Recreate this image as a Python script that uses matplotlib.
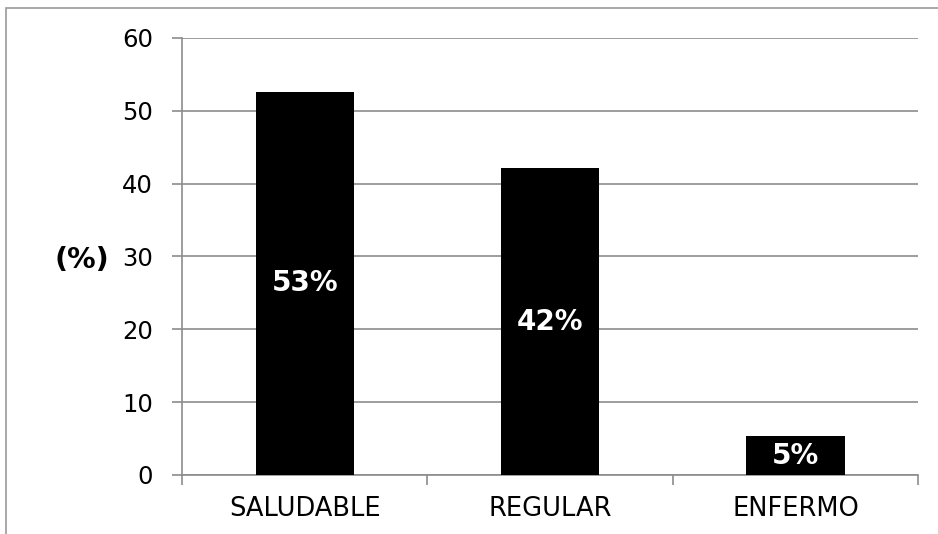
import matplotlib
matplotlib.use("Agg")
import matplotlib.pyplot as plt
import numpy as np
from matplotlib.patches import Rectangle

categories = ["SALUDABLE", "REGULAR", "ENFERMO"]
values = [52.6, 42.1, 5.3]
labels = ["53%", "42%", "5%"]
y_ticks = [0, 10, 20, 30, 40, 50, 60]

plt.rcParams.update({
    "font.family": "DejaVu Sans",
})

fig = plt.figure(figsize=(9.38, 5.34), dpi=100)
ax = fig.add_axes([0.194, 0.1105, 0.785, 0.8185])

# outer chart frame (clipped at right and bottom)
fig.patches.append(Rectangle((6 / 938, -0.05), 1.1, (534 - 8) / 534 + 0.05,
                             transform=fig.transFigure, fill=False,
                             edgecolor="#9a9a9a", linewidth=1.2))

x = np.arange(len(categories))
ax.bar(x, values, width=0.4, color="black", zorder=3)
for xi, v, lab in zip(x, values, labels):
    ax.text(xi, v / 2, lab, ha="center", va="center", color="white",
            fontsize=20, fontweight="bold", zorder=4)

ax.set_xlim(-0.5, 2.5)
ax.set_ylim(0, 60)
ax.set_yticks(y_ticks)
ax.yaxis.grid(True, color="#8c8c8c", linewidth=1.2, zorder=0)
ax.set_axisbelow(True)

ax.set_xticks(x)
ax.set_xticklabels(categories, fontsize=18.5)
ax.set_xticks([-0.5, 0.5, 1.5, 2.5], minor=True)
ax.tick_params(axis="x", which="major", length=0, pad=15)
ax.tick_params(axis="x", which="minor", length=7, width=1.2, color="#8c8c8c")
ax.tick_params(axis="y", labelsize=17.5, length=7, width=1.2, color="#8c8c8c", pad=14)

for s in ["top", "right"]:
    ax.spines[s].set_visible(False)
for s in ["left", "bottom"]:
    ax.spines[s].set_color("#8c8c8c")
    ax.spines[s].set_linewidth(1.2)

ax.text(-0.099, 0.493, "(%)", transform=ax.transAxes, ha="right", va="center",
        fontsize=20.5, fontweight="bold")

fig.savefig("out.png", dpi=100)
